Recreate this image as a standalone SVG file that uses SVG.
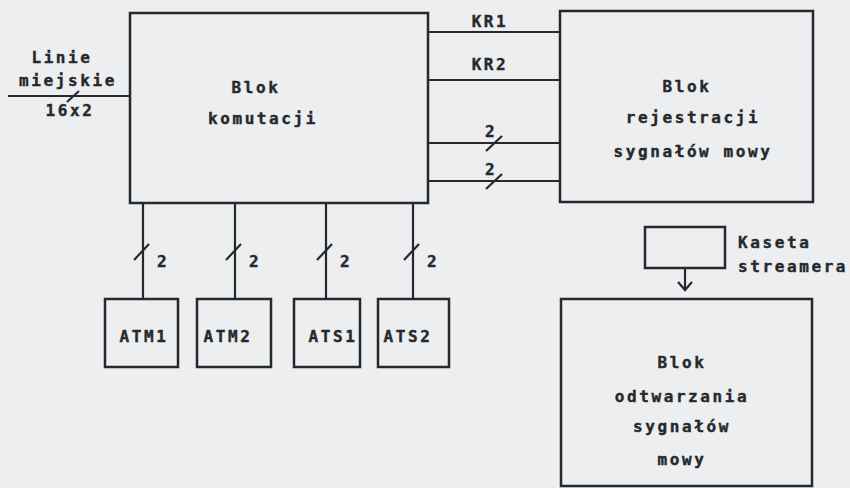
<svg xmlns="http://www.w3.org/2000/svg" width="850" height="488" viewBox="0 0 850 488">
<style>
.bg{fill:#eceef0}
.box{fill:none;stroke:#26292c;stroke-width:2.5}
.ln{fill:none;stroke:#26292c;stroke-width:2.2}
.t{font-family:"DejaVu Sans Mono","Liberation Mono",monospace;font-weight:bold;font-size:16px;letter-spacing:2.6px;fill:#26292c;stroke:#26292c;stroke-width:0.4}
.c{text-anchor:middle}
</style>
<rect class="bg" x="0" y="0" width="850" height="488"/>
<g id="connectors">
<line class="ln" x1="8" y1="96" x2="130" y2="96"/>
<line class="ln" x1="67" y1="102" x2="79" y2="91"/>
<line class="ln" x1="428" y1="32" x2="560" y2="32"/>
<line class="ln" x1="428" y1="80" x2="560" y2="80"/>
<line class="ln" x1="428" y1="143" x2="560" y2="143"/>
<line class="ln" x1="428" y1="181" x2="560" y2="181"/>
<line class="ln" x1="486" y1="151" x2="502" y2="136"/>
<line class="ln" x1="486" y1="189" x2="502" y2="174"/>
<line class="ln" x1="143" y1="203" x2="143" y2="299"/>
<line class="ln" x1="235" y1="203" x2="235" y2="299"/>
<line class="ln" x1="326" y1="203" x2="326" y2="299"/>
<line class="ln" x1="413" y1="203" x2="413" y2="299"/>
<line class="ln" x1="134" y1="260" x2="149" y2="244"/>
<line class="ln" x1="226" y1="260" x2="241" y2="244"/>
<line class="ln" x1="317" y1="260" x2="332" y2="244"/>
<line class="ln" x1="404" y1="260" x2="419" y2="244"/>
<line class="ln" x1="685" y1="268" x2="685" y2="291"/>
<polyline class="ln" points="678,282 685,290 692,282"/>
<text class="t c" x="62" y="63">Linie</text>
<text class="t c" x="68" y="86">miejskie</text>
<text class="t c" x="70" y="116">16x2</text>
<text class="t c" x="490" y="27">KR1</text>
<text class="t c" x="490" y="70">KR2</text>
<text class="t" x="485" y="137">2</text>
<text class="t" x="485" y="175">2</text>
<text class="t" x="157" y="267">2</text>
<text class="t" x="249" y="267">2</text>
<text class="t" x="340" y="267">2</text>
<text class="t" x="427" y="267">2</text>
</g>
<g id="blok-komutacji">
<rect class="box" x="130" y="13" width="298" height="190"/>
<text class="t c" x="256" y="93">Blok</text>
<text class="t c" x="263" y="124">komutacji</text>
</g>
<g id="blok-rejestracji">
<rect class="box" x="560" y="11" width="253" height="191"/>
<text class="t c" x="687" y="92">Blok</text>
<text class="t c" x="693" y="123">rejestracji</text>
<text class="t c" x="693" y="157">sygnałów mowy</text>
</g>
<g id="atm1">
<rect class="box" x="105" y="299" width="73" height="68"/>
<text class="t c" x="144" y="342">ATM1</text>
</g>
<g id="atm2">
<rect class="box" x="197" y="299" width="74" height="68"/>
<text class="t c" x="228" y="342">ATM2</text>
</g>
<g id="ats1">
<rect class="box" x="294" y="299" width="66" height="68"/>
<text class="t c" x="333" y="342">ATS1</text>
</g>
<g id="ats2">
<rect class="box" x="378" y="299" width="71" height="68"/>
<text class="t c" x="408" y="342">ATS2</text>
</g>
<g id="kaseta">
<rect class="box" x="645" y="227" width="80" height="41"/>
<text class="t" x="738" y="248">Kaseta</text>
<text class="t" x="738" y="272">streamera</text>
</g>
<g id="blok-odtwarzania">
<rect class="box" x="561" y="299" width="251" height="187"/>
<text class="t c" x="682" y="368">Blok</text>
<text class="t c" x="682" y="402">odtwarzania</text>
<text class="t c" x="682" y="432">sygnałów</text>
<text class="t c" x="682" y="465">mowy</text>
</g>
</svg>
